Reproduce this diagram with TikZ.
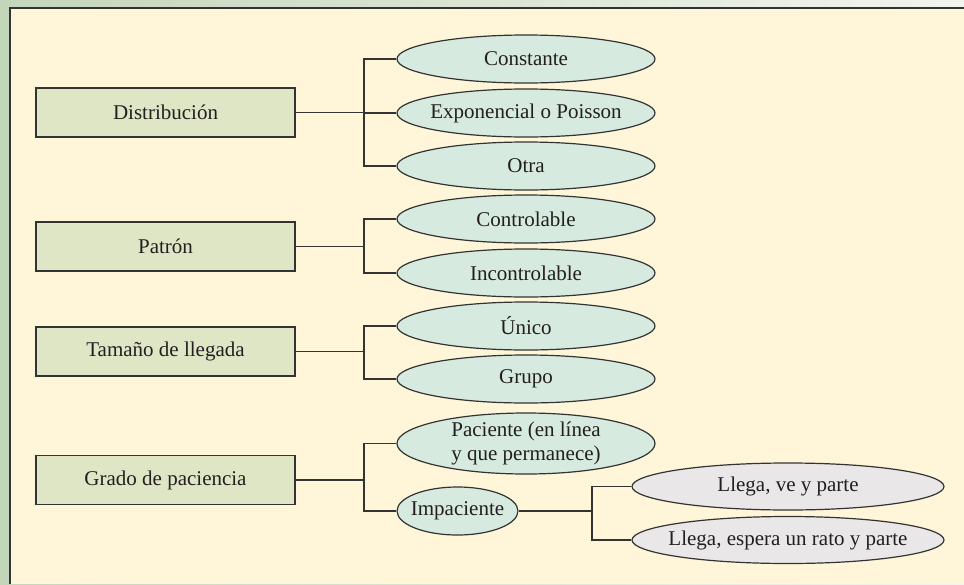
\documentclass[tikz,border=0pt]{standalone}
\usepackage{fontspec}
\setmainfont{Liberation Serif}
\usetikzlibrary{shapes.geometric}
\definecolor{cream}{HTML}{FFF5D9}
\definecolor{boxfill}{HTML}{DFE6C6}
\definecolor{ellfill}{HTML}{D6EADF}
\definecolor{greyfill}{HTML}{E9E7E8}
\definecolor{linec}{HTML}{333333}
\definecolor{txt}{HTML}{231F20}
\definecolor{gleft}{HTML}{C3D6BA}
\definecolor{gright}{HTML}{F2F4EF}
\begin{document}
\begin{tikzpicture}[x=1pt,y=-1pt,
  catbox/.style={draw=linec, line width=1.4pt, fill=boxfill, minimum width=259pt,
    minimum height=49pt, inner sep=0pt, font=\fontsize{21}{24}\selectfont, text=txt},
  opt/.style={ellipse, draw=linec, line width=1.2pt, fill=ellfill, minimum width=258pt,
    minimum height=48pt, inner xsep=-10pt, inner ysep=0pt,
    font=\fontsize{21}{24}\selectfont, text=txt, align=center},
  subopt/.style={opt, fill=greyfill, minimum width=312pt, minimum height=47pt},
  conn/.style={draw=linec, line width=1.4pt}]
\useasboundingbox (0,0) rectangle (964,584);
% background frame
\shade[left color=gleft, right color=gright] (0,0) rectangle (964,584);
\fill[cream] (10,8) rectangle (964,584);
\draw[linec, line width=1.8pt] (10,584) -- (10,8) -- (964,8);

% bracket x positions
\coordinate (bA) at (364,0);
\coordinate (bB) at (592,0);

% category boxes
\node[catbox] (dist) at (165.5,112.5) {Distribución};
\node[catbox] (pat)  at (165.5,246.5) {Patrón};
\node[catbox] (tam)  at (165.5,351.5) {Tamaño de llegada};
\node[catbox] (gra)  at (165.5,480)   {Grado de paciencia};

% options
\node[opt] (cons) at (526,59)  {Constante};
\node[opt] (expo) at (526,113) {Exponencial o Poisson};
\node[opt] (otra) at (526,166) {Otra};
\node[opt] (ctrl) at (526,219) {Controlable};
\node[opt] (inct) at (526,273) {Incontrolable};
\node[opt] (unic) at (526,326) {Único};
\node[opt] (grup) at (526,379) {Grupo};
\node[opt, minimum height=61pt] (paci) at (526,443.5) {Paciente (en línea\\y que permanece)};
\node[opt, minimum width=121pt] (impa) at (457.5,511) {Impaciente};

\node[subopt] (lvp) at (788,486.5) {Llega, ve y parte};
\node[subopt] (lep) at (788,540)   {Llega, espera un rato y parte};

% connectors
\draw[conn] (dist.east) -- (dist.east -| bA);
\draw[conn] (cons.west) -- (cons.west -| bA) -- (otra.west -| bA) -- (otra.west);
\draw[conn] (expo.west) -- (expo.west -| bA);

\draw[conn] (pat.east) -- (pat.east -| bA);
\draw[conn] (ctrl.west) -- (ctrl.west -| bA) -- (inct.west -| bA) -- (inct.west);

\draw[conn] (tam.east) -- (tam.east -| bA);
\draw[conn] (unic.west) -- (unic.west -| bA) -- (grup.west -| bA) -- (grup.west);

\draw[conn] (gra.east) -- (gra.east -| bA);
\draw[conn] (paci.west) -- (paci.west -| bA) -- (impa.west -| bA) -- (impa.west);

\draw[conn] (impa.east) -- (impa.east -| bB);
\draw[conn] (lvp.west) -- (lvp.west -| bB) -- (lep.west -| bB) -- (lep.west);
\end{tikzpicture}
\end{document}
